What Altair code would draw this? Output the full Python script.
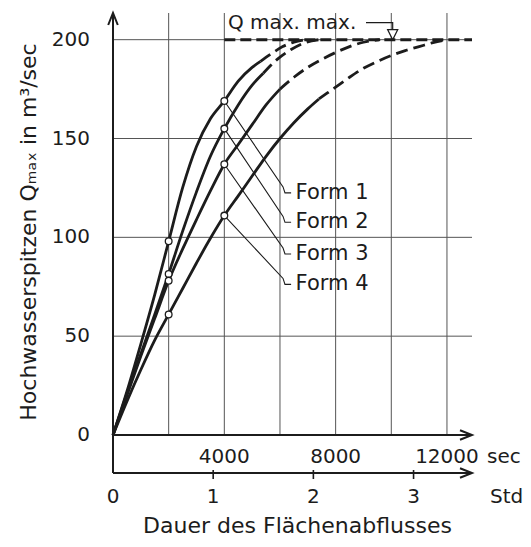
import altair as alt
import pandas as pd

# ---------------- data ----------------
FORMS = ["Form 1", "Form 2", "Form 3", "Form 4"]

F1_SEC = [0, 500, 1000, 1500, 2000, 2500, 3000, 3500, 4000, 4500, 5000, 5300, 5700, 6100, 6500, 6900]
F1_Q = [0, 22, 46, 71, 98, 125, 146, 160, 169, 179, 186, 189, 193, 196.5, 198.8, 200]
F2_SEC = [0, 500, 1000, 1500, 2000, 2500, 3000, 3500, 4000, 4500, 5000, 5400, 5900, 6400, 6900, 7400]
F2_Q = [0, 21, 41, 61, 81.5, 103, 123, 141, 155, 167, 177, 183, 190, 195, 198.5, 200]
F3_SEC = [0, 500, 1000, 1500, 2000, 2500, 3000, 3500, 4000, 4500, 5000, 5500, 6000, 6500,
          7000, 7500, 8000, 8500, 9000, 9600]
F3_Q = [0, 20, 40, 59, 78, 94, 109, 123.5, 137, 147, 157, 167, 175, 181, 186, 190, 193.5,
        196.5, 198.7, 200]
F4_SEC = [0, 500, 1000, 1500, 2000, 2500, 3000, 3500, 4000, 4500, 5000, 5500, 6000, 6500,
          7000, 7400, 8000, 8500, 9000, 9500, 10000, 10500, 11000, 11500, 12000]
F4_Q = [0, 17, 33, 48, 61, 74, 87, 99.5, 111, 121, 131, 141, 150, 158, 165, 170, 176, 181,
        185.5, 189, 192, 194.5, 196.5, 198.5, 200]
SOLID_END = [5300, 5400, 6000, 7400]

MARK_SEC = [2000, 4000]
MARK_Q = [[98, 169], [81.5, 155], [78, 137], [61, 111]]

LABEL_Q = [122.5, 107.6, 91.6, 76.2]
LEADER_BEND_SEC = 6110
LEADER_HOOK_SEC = 6180
LEADER_END_SEC = 6400
LABEL_SEC = 6560

QMAX = 200
QMAX_DASH_FROM = 4000
QMAX_TEXT = "Q max. max."
QMAX_TEXT_SEC = 4130
QMAX_TEXT_Q = 208.2
QMAX_LEADER_SEC = [9091, 10050, 10050]
QMAX_LEADER_Q = [208.6, 208.6, 205]
QMAX_MARK_SEC = 10050

GRID_SEC = [2000, 4000, 6000, 8000, 10000, 12000]
GRID_Q = [50, 100, 150, 200]
SEC_TICKS = [4000, 8000, 12000]
STD_TICKS = [1, 2, 3]
STD_LABELS = [0, 1, 2, 3]
Y_TICKS = [0, 50, 100, 150, 200]
X_MAX = 12900
Y_MAX = 214

Y_TITLE = "Hochwasserspitzen Qₘₐₓ in m³/sec"
X_TITLE = "Dauer des Flächenabflusses"

# ---------------- layout ----------------
W, H = 359, 423
INK = "#1c1c1c"
FONT = "DejaVu Sans"
STD_Y = 461

xs = alt.Scale(domain=[0, X_MAX], nice=False)
ys = alt.Scale(domain=[0, Y_MAX], nice=False)


def X(field="sec"):
    return alt.X(f"{field}:Q", scale=xs, axis=None)


def Y(field="q"):
    return alt.Y(f"{field}:Q", scale=ys, axis=None)


one = pd.DataFrame({"k": [0]})

# curves table
rows = []
for name, secs, qs, end in zip(FORMS, [F1_SEC, F2_SEC, F3_SEC, F4_SEC],
                               [F1_Q, F2_Q, F3_Q, F4_Q], SOLID_END):
    for s, q in zip(secs, qs):
        if s <= end:
            rows.append(dict(form=name, sec=s, q=q, style="solid"))
        if s >= end:
            rows.append(dict(form=name, sec=s, q=q, style="dashed"))
curves = pd.DataFrame(rows)

markers = pd.DataFrame([dict(form=f, sec=s, q=q)
                        for f, qs in zip(FORMS, MARK_Q) for s, q in zip(MARK_SEC, qs)])

lead_rows = []
for f, qs, lq in zip(FORMS, MARK_Q, LABEL_Q):
    pts = [(4000, qs[1]), (LEADER_BEND_SEC, lq + 3), (LEADER_HOOK_SEC, lq), (LEADER_END_SEC, lq)]
    for i, (s, q) in enumerate(pts):
        lead_rows.append(dict(form=f, o=i, sec=s, q=q))
leaders = pd.DataFrame(lead_rows)

labels = pd.DataFrame(dict(form=FORMS, sec=[LABEL_SEC] * 4, q=LABEL_Q))

# ---------------- layers ----------------
solid = alt.Chart(curves).transform_filter("datum.style == 'solid'").mark_line(
    color=INK, strokeWidth=2.8, interpolate="monotone").encode(
    x=X(), y=Y(), detail="form:N", order="sec:Q")
dashed = alt.Chart(curves).transform_filter("datum.style == 'dashed'").mark_line(
    color=INK, strokeWidth=2.8, strokeDash=[12, 6], interpolate="monotone").encode(
    x=X(), y=Y(), detail="form:N", order="sec:Q")

vgrid = alt.Chart(pd.DataFrame(dict(sec=GRID_SEC))).mark_rule(
    color="#555", strokeWidth=1).encode(x=X(), y=alt.value(1), y2=alt.value(H))
hgrid = alt.Chart(pd.DataFrame(dict(q=GRID_Q))).mark_rule(
    color="#555", strokeWidth=1).encode(y=Y(), x=alt.value(0), x2=alt.value(W))

# tick labels through the scales
x_labels = alt.Chart(pd.DataFrame(dict(sec=SEC_TICKS))).mark_text(
    font=FONT, fontSize=20, color=INK, align="center", baseline="alphabetic").encode(
    x=X(), y=alt.value(451), text=alt.Text("sec:Q", format="d"))
y_labels = alt.Chart(pd.DataFrame(dict(q=Y_TICKS))).mark_text(
    font=FONT, fontSize=20, color=INK, align="right", baseline="middle").encode(
    y=Y(), x=alt.value(-23), text=alt.Text("q:Q", format="d"))


def prule(x1, x2, y1, y2, width=2):
    return alt.Chart(one).mark_rule(color=INK, strokeWidth=width).encode(
        x=alt.value(x1), x2=alt.value(x2), y=alt.value(y1), y2=alt.value(y2))


def arrow(px, py, shape):
    return alt.Chart(one).mark_point(shape=shape, size=576, filled=False, color=INK,
                                     strokeWidth=2, opacity=1).encode(
        x=alt.value(px), y=alt.value(py))


def ptext(t, px, py, size=20, align="left", baseline="alphabetic", angle=0):
    return alt.Chart(one).mark_text(text=t, font=FONT, fontSize=size, color=INK, align=align,
                                    baseline=baseline, angle=angle).encode(
        x=alt.value(px), y=alt.value(py))


axis_layers = [
    prule(0, 0, 3, STD_Y),
    prule(0, W - 1, H, H),
    prule(0, W - 1, STD_Y, STD_Y),
    arrow(W, H, "M-1,-0.4L0,0L-1,0.4"),
    arrow(W, STD_Y, "M-1,-0.4L0,0L-1,0.4"),
    arrow(0, 1, "M-0.4,1L0,0L0.4,1"),
    ptext("sec", 374, 451),
    ptext("Std", 377, 491),
    ptext(Y_TITLE, -84, 220, size=22, align="center", baseline="middle", angle=270),
    ptext(X_TITLE, 184.5, 514, size=22, align="center", baseline="middle"),
]

std_ticks = alt.Chart(pd.DataFrame(dict(h=STD_TICKS))).transform_calculate(
    sec="datum.h * 3600").mark_rule(color=INK, strokeWidth=1.6).encode(
    x=X(), y=alt.value(STD_Y - 3), y2=alt.value(STD_Y + 6))
std_labels = alt.Chart(pd.DataFrame(dict(h=STD_LABELS))).transform_calculate(
    sec="datum.h * 3600").mark_text(font=FONT, fontSize=20, color=INK, align="center",
                                    baseline="alphabetic").encode(
    x=X(), y=alt.value(491), text="h:N")

qmax_line = alt.Chart(pd.DataFrame(dict(sec=[QMAX_DASH_FROM, X_MAX], q=[QMAX, QMAX]))).mark_line(
    color=INK, strokeWidth=3, strokeDash=[11, 5]).encode(x=X(), y=Y())

lead = alt.Chart(leaders).mark_line(color=INK, strokeWidth=1.1).encode(
    x=X(), y=Y(), detail="form:N", order="o:Q")
pts = alt.Chart(markers).mark_point(shape="circle", size=45, filled=True, fill="white",
                                    stroke=INK, strokeWidth=1.3, opacity=1).encode(x=X(), y=Y())
form_text = alt.Chart(labels).mark_text(font=FONT, fontSize=21, color=INK, align="left",
                                        baseline="middle").encode(x=X(), y=Y(), text="form:N")

qmax_lead = alt.Chart(pd.DataFrame(dict(sec=QMAX_LEADER_SEC, q=QMAX_LEADER_Q,
                                        o=[0, 1, 2]))).mark_line(
    color=INK, strokeWidth=1.2).encode(x=X(), y=Y(), order="o:Q")
qmax_tri = alt.Chart(pd.DataFrame(dict(sec=[QMAX_MARK_SEC], q=[QMAX]))).mark_point(
    shape="M-0.5,-1L0.5,-1L0,0Z", size=400, filled=True, fill="white", stroke=INK,
    strokeWidth=1.3, opacity=1).encode(x=X(), y=Y())
qmax_text = alt.Chart(pd.DataFrame(dict(t=[QMAX_TEXT], sec=[QMAX_TEXT_SEC], q=[QMAX_TEXT_Q]))).mark_text(
    font=FONT, fontSize=20, color=INK, align="left", baseline="middle").encode(
    x=X(), y=Y(), text="t:N")

chart = alt.layer(
    vgrid, hgrid, qmax_line, solid, dashed, lead, pts, form_text,
    qmax_lead, qmax_tri, qmax_text, x_labels, y_labels, std_ticks, std_labels, *axis_layers,
).properties(
    width=W, height=H,
    padding={"left": 105, "top": 4, "right": 51, "bottom": 104},
    autosize=alt.AutoSizeParams(type="none"),
    background="white",
).configure_view(stroke=None)

chart.save("out.html", embed_options={"renderer": "svg", "actions": False})
